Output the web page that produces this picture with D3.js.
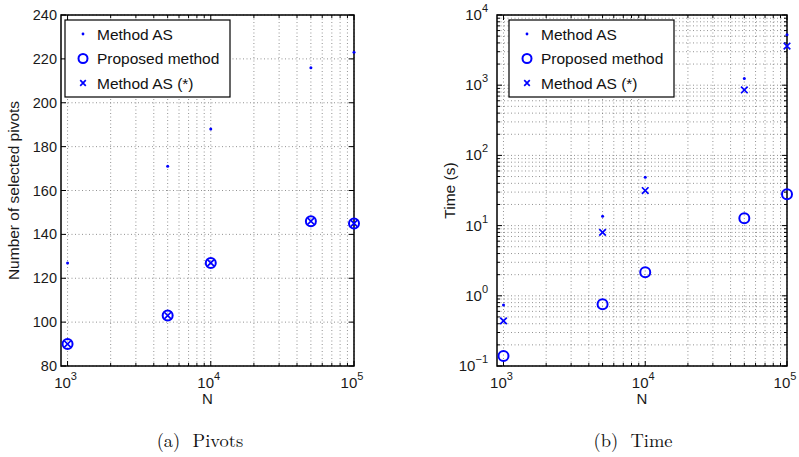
<!DOCTYPE html>
<html>
<head>
<meta charset="utf-8">
<script src="https://cdn.jsdelivr.net/npm/d3@7"></script>
<style>
  body { margin: 0; background: #fff; }
  svg text { font-family: "Liberation Sans", Arial, sans-serif; }
</style>
</head>
<body>
<div id="chart"></div>
<script>
// Data
const nValues = [1000, 5000, 10000, 50000, 100000]
const pivotsAS = [127, 171, 188, 216, 223]
const pivotsProposed = [90, 103, 127, 146, 145]
const pivotsASstar = [90, 103, 127, 146, 145]
const timeAS = [0.74, 13.6, 49, 1250, 5250]
const timeProposed = [0.139, 0.757, 2.16, 12.7, 27.9]
const timeASstar = [0.44, 8.0, 31.6, 855, 3615]

const seriesNames = ['Method AS', 'Proposed method', 'Method AS (*)']
const pivotTicks = [80, 100, 120, 140, 160, 180, 200, 220, 240]
const xTickExps = [3, 4, 5]
const timeTickExps = [-1, 0, 1, 2, 3, 4]
const captions = ['(a)  Pivots', '(b)  Time']

const blue = '#0000ff'

const svg = d3.select('#chart')
  .append('svg')
  .attr('width', 799)
  .attr('height', 457)

// minor positions for log axes
function logMinors(lo, hi) {
  const out = []
  for (let e = lo; e < hi; e++) {
    for (let k = 2; k <= 9; k++) out.push(k * Math.pow(10, e))
  }
  return out
}

function drawPanel(p) {
  const g = svg.append('g')
  const xScale = d3.scaleLog().domain([900, 100000]).range([p.left, p.right])
  const yScale = p.log
    ? d3.scaleLog().domain([0.1, 10000]).range([p.bottom, p.top])
    : d3.scaleLinear().domain([80, 240]).range([p.bottom, p.top])

  const xMajors = xTickExps.map(e => Math.pow(10, e))
  const xMinors = logMinors(3, 5)
  const yMajors = p.log ? timeTickExps.map(e => Math.pow(10, e)) : pivotTicks
  const yMinors = p.log ? logMinors(-1, 4) : []

  // grid
  const grid = g.append('g')
    .attr('stroke', '#777')
    .attr('stroke-width', 0.8)
    .attr('stroke-dasharray', '1,2.5')
  grid.selectAll('.gx').data(xMajors.concat(xMinors)).join('line')
    .attr('x1', d => xScale(d)).attr('x2', d => xScale(d))
    .attr('y1', p.top).attr('y2', p.bottom)
  grid.selectAll('.gy').data(yMajors.concat(yMinors)).join('line')
    .attr('y1', d => yScale(d)).attr('y2', d => yScale(d))
    .attr('x1', p.left).attr('x2', p.right)

  // ticks (inside, both sides)
  const ticks = g.append('g').attr('stroke', '#000').attr('stroke-width', 1)
  const tick = (data, len, horiz) => {
    data.forEach(d => {
      if (horiz) {
        const x = xScale(d)
        ticks.append('line').attr('x1', x).attr('x2', x).attr('y1', p.bottom).attr('y2', p.bottom - len)
        ticks.append('line').attr('x1', x).attr('x2', x).attr('y1', p.top).attr('y2', p.top + len)
      } else {
        const y = yScale(d)
        ticks.append('line').attr('y1', y).attr('y2', y).attr('x1', p.left).attr('x2', p.left + len)
        ticks.append('line').attr('y1', y).attr('y2', y).attr('x1', p.right).attr('x2', p.right - len)
      }
    })
  }
  tick(xMajors, 5, true)
  tick(xMinors, 3, true)
  tick(yMajors, 5, false)
  tick(yMinors, 3, false)

  // box
  g.append('rect')
    .attr('x', p.left).attr('y', p.top)
    .attr('width', p.right - p.left).attr('height', p.bottom - p.top)
    .attr('fill', 'none').attr('stroke', '#000').attr('stroke-width', 1.5)

  // x tick labels
  xTickExps.forEach(e => {
    const t = g.append('text')
      .attr('x', xScale(Math.pow(10, e)) - 2)
      .attr('y', p.bottom + 22)
      .attr('text-anchor', 'middle')
      .attr('font-size', 15)
      .attr('fill', '#1a1a1a')
    t.append('tspan').text('10')
    t.append('tspan').attr('font-size', 11).attr('dy', -8).text(e)
  })

  // y tick labels
  if (p.log) {
    timeTickExps.forEach(e => {
      const t = g.append('text')
        .attr('x', p.left - 9)
        .attr('y', yScale(Math.pow(10, e)) + 5)
        .attr('text-anchor', 'end')
        .attr('font-size', 15)
        .attr('fill', '#1a1a1a')
      t.append('tspan').text('10')
      t.append('tspan').attr('font-size', 11).attr('dy', -8).text(e < 0 ? '\u2212' + Math.abs(e) : e)
    })
  } else {
    pivotTicks.forEach(v => {
      g.append('text')
        .attr('x', p.left - 4)
        .attr('y', yScale(v) + 5)
        .attr('text-anchor', 'end')
        .attr('font-size', 14.5)
        .attr('fill', '#1a1a1a')
        .text(v)
    })
  }

  // axis labels
  g.append('text')
    .attr('x', (p.left + p.right) / 2)
    .attr('y', p.bottom + 38)
    .attr('text-anchor', 'middle')
    .attr('font-size', 15)
    .attr('fill', '#1a1a1a')
    .text('N')
  g.append('text')
    .attr('transform', `translate(${p.ylabelX}, ${(p.top + p.bottom) / 2}) rotate(-90)`)
    .attr('text-anchor', 'middle')
    .attr('font-size', 15.5)
    .attr('fill', '#1a1a1a')
    .text(p.ylabel)

  // data
  const pts = (arr) => nValues.map((n, i) => [n, arr[i]])
  g.selectAll('.dot').data(pts(p.as)).join('circle')
    .attr('cx', d => xScale(d[0])).attr('cy', d => yScale(d[1]))
    .attr('r', 1.5).attr('fill', blue)
  g.selectAll('.ring').data(pts(p.proposed)).join('circle')
    .attr('cx', d => xScale(d[0])).attr('cy', d => yScale(d[1]))
    .attr('r', 5).attr('fill', 'none').attr('stroke', blue).attr('stroke-width', 2)
  const cross = d3.symbol().type(d3.symbolX).size(30)
  g.selectAll('.cross').data(pts(p.asStar)).join('path')
    .attr('transform', d => `translate(${xScale(d[0])}, ${yScale(d[1])})`)
    .attr('d', cross).attr('fill', 'none').attr('stroke', blue).attr('stroke-width', 1.7)

  // legend
  const lg = g.append('g').attr('transform', `translate(${p.legendX}, ${p.top + 5})`)
  lg.append('rect').attr('width', 165).attr('height', 77)
    .attr('fill', '#fff').attr('stroke', '#000').attr('stroke-width', 1.2)
  seriesNames.forEach((name, i) => {
    const cy = 14 + i * 24.5
    if (i === 0) lg.append('circle').attr('cx', 18).attr('cy', cy).attr('r', 1.4).attr('fill', blue)
    if (i === 1) lg.append('circle').attr('cx', 18).attr('cy', cy).attr('r', 4.5)
      .attr('fill', 'none').attr('stroke', blue).attr('stroke-width', 2)
    if (i === 2) lg.append('path').attr('transform', `translate(18, ${cy})`)
      .attr('d', d3.symbol().type(d3.symbolX).size(22)).attr('fill', 'none')
      .attr('stroke', blue).attr('stroke-width', 1.7)
    lg.append('text').attr('x', 32).attr('y', cy + 5.5)
      .attr('font-size', 15.5).attr('fill', '#111').text(name)
  })

  // caption
  svg.append('text')
    .attr('x', p.captionX).attr('y', 447)
    .attr('text-anchor', 'middle')
    .attr('font-size', 18.5)
    .style('font-family', '"Latin Modern Roman", "DejaVu Serif", "Liberation Serif", serif')
    .style('white-space', 'pre')
    .attr('fill', '#111')
    .text(p.caption)
}

drawPanel({
  left: 61, right: 354, top: 15, bottom: 366, log: false,
  as: pivotsAS, proposed: pivotsProposed, asStar: pivotsASstar,
  ylabel: 'Number of selected pivots', ylabelX: 19,
  legendX: 65, caption: captions[0], captionX: 200
})
drawPanel({
  left: 497, right: 787, top: 15, bottom: 366, log: true,
  as: timeAS, proposed: timeProposed, asStar: timeASstar,
  ylabel: 'Time (s)', ylabelX: 455,
  legendX: 509, caption: captions[1], captionX: 633
})
</script>
</body>
</html>
